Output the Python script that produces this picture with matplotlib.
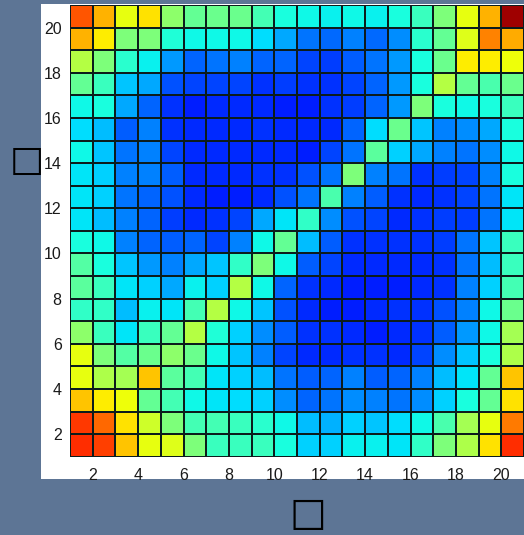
import numpy as np
import matplotlib
matplotlib.use("Agg")
import matplotlib.pyplot as plt

# rows listed from y=20 (top) down to y=1 (bottom); columns x=1..20
row20 = [0.82, 0.72, 0.63, 0.67, 0.52, 0.47, 0.48, 0.48, 0.43, 0.38, 0.37, 0.36, 0.37, 0.36, 0.38, 0.42, 0.50, 0.63, 0.72, 0.97]
row19 = [0.72, 0.66, 0.50, 0.50, 0.39, 0.37, 0.37, 0.37, 0.34, 0.29, 0.24, 0.23, 0.25, 0.23, 0.265, 0.40, 0.47, 0.62, 0.77, 0.73]
row18 = [0.57, 0.50, 0.40, 0.36, 0.275, 0.225, 0.24, 0.25, 0.225, 0.225, 0.195, 0.185, 0.215, 0.24, 0.275, 0.38, 0.48, 0.66, 0.66, 0.64]
row17 = [0.47, 0.42, 0.32, 0.29, 0.205, 0.195, 0.195, 0.195, 0.175, 0.185, 0.175, 0.175, 0.195, 0.225, 0.275, 0.38, 0.57, 0.47, 0.44, 0.48]
row16 = [0.37, 0.38, 0.29, 0.225, 0.175, 0.155, 0.165, 0.165, 0.165, 0.155, 0.155, 0.175, 0.185, 0.225, 0.275, 0.50, 0.38, 0.37, 0.38, 0.42]
row15 = [0.34, 0.31, 0.215, 0.25, 0.175, 0.165, 0.165, 0.165, 0.175, 0.165, 0.165, 0.165, 0.225, 0.34, 0.48, 0.32, 0.25, 0.265, 0.29, 0.38]
row14 = [0.37, 0.32, 0.24, 0.25, 0.195, 0.165, 0.165, 0.165, 0.165, 0.165, 0.155, 0.195, 0.24, 0.46, 0.33, 0.29, 0.25, 0.24, 0.265, 0.37]
row13 = [0.35, 0.33, 0.25, 0.25, 0.215, 0.165, 0.165, 0.165, 0.175, 0.175, 0.205, 0.24, 0.50, 0.25, 0.24, 0.175, 0.185, 0.195, 0.25, 0.38]
row12 = [0.35, 0.33, 0.24, 0.225, 0.205, 0.165, 0.155, 0.155, 0.165, 0.205, 0.24, 0.44, 0.25, 0.215, 0.175, 0.165, 0.175, 0.195, 0.24, 0.35]
row11 = [0.35, 0.31, 0.25, 0.225, 0.185, 0.165, 0.175, 0.195, 0.29, 0.35, 0.41, 0.265, 0.205, 0.195, 0.165, 0.175, 0.185, 0.185, 0.24, 0.35]
row10 = [0.38, 0.37, 0.25, 0.225, 0.215, 0.225, 0.195, 0.25, 0.37, 0.47, 0.31, 0.215, 0.175, 0.175, 0.175, 0.175, 0.185, 0.24, 0.32, 0.42]
row9  = [0.45, 0.38, 0.32, 0.275, 0.25, 0.29, 0.32, 0.41, 0.50, 0.37, 0.215, 0.195, 0.165, 0.165, 0.165, 0.165, 0.175, 0.24, 0.31, 0.42]
row8  = [0.46, 0.42, 0.35, 0.33, 0.29, 0.36, 0.33, 0.57, 0.37, 0.225, 0.175, 0.165, 0.155, 0.155, 0.155, 0.165, 0.175, 0.25, 0.33, 0.43]
row7  = [0.41, 0.41, 0.31, 0.36, 0.35, 0.43, 0.57, 0.37, 0.32, 0.205, 0.165, 0.155, 0.155, 0.165, 0.175, 0.175, 0.205, 0.25, 0.37, 0.48]
row6  = [0.52, 0.42, 0.35, 0.42, 0.47, 0.57, 0.39, 0.33, 0.265, 0.215, 0.175, 0.175, 0.165, 0.155, 0.165, 0.175, 0.215, 0.275, 0.37, 0.55]
row5  = [0.63, 0.50, 0.45, 0.48, 0.52, 0.48, 0.37, 0.32, 0.25, 0.195, 0.165, 0.165, 0.175, 0.175, 0.165, 0.195, 0.265, 0.32, 0.38, 0.56]
row4  = [0.63, 0.56, 0.55, 0.70, 0.46, 0.43, 0.35, 0.33, 0.31, 0.24, 0.215, 0.225, 0.25, 0.215, 0.225, 0.25, 0.31, 0.35, 0.47, 0.70]
row3  = [0.70, 0.66, 0.64, 0.47, 0.43, 0.37, 0.35, 0.34, 0.33, 0.265, 0.225, 0.24, 0.265, 0.25, 0.24, 0.265, 0.33, 0.38, 0.47, 0.67]
row2  = [0.85, 0.80, 0.67, 0.60, 0.50, 0.43, 0.43, 0.42, 0.40, 0.37, 0.31, 0.30, 0.33, 0.32, 0.34, 0.37, 0.44, 0.55, 0.63, 0.78]
row1  = [0.86, 0.84, 0.70, 0.63, 0.62, 0.50, 0.42, 0.42, 0.42, 0.38, 0.33, 0.33, 0.36, 0.36, 0.35, 0.41, 0.50, 0.56, 0.67, 0.86]

tick_values = [2, 4, 6, 8, 10, 12, 14, 16, 18, 20]
x_label = "\u25a1"
y_label = "\u25a1"

rows_top_down = [row20, row19, row18, row17, row16, row15, row14, row13, row12, row11,
                 row10, row9, row8, row7, row6, row5, row4, row3, row2, row1]
Z = np.array(rows_top_down[::-1])  # Z[0] is y=1
n = Z.shape[0]
edges = np.arange(1, n + 2)

W, H = 524, 535
fig = plt.figure(figsize=(W / 100, H / 100), dpi=100)
fig.patch.set_facecolor("#5d7595")

# white panel behind the plot
bg = fig.add_axes([41 / W, 1 - 479 / H, (W - 41) / W, (479 - 4) / H], zorder=0)
bg.set_facecolor("white")
bg.set_xticks([])
bg.set_yticks([])
for s in bg.spines.values():
    s.set_visible(False)

ax = fig.add_axes([70 / W, 1 - 456.7 / H, 454 / W, 451.7 / H], zorder=1)
ax.pcolormesh(edges, edges, Z, cmap="jet", vmin=0, vmax=1,
              edgecolors="#0c1c1c", linewidth=1.3)
ax.set_xlim(1, n + 1)
ax.set_ylim(1, n + 1)
ax.set_xticks(tick_values)
ax.set_yticks(tick_values)
ax.tick_params(length=0, labelsize=11.5, colors="#1a1a1a")
ax.tick_params(axis="x", pad=8)
ax.tick_params(axis="y", pad=6)
for lbl in ax.get_xticklabels() + ax.get_yticklabels():
    lbl.set_fontfamily("Liberation Sans")
for s in ax.spines.values():
    s.set_visible(False)

fig.text(27 / W, 1 - 161 / H, y_label, fontsize=26, ha="center", va="center",
         family="DejaVu Sans", color="black")
fig.text(307.5 / W, 1 - 514 / H, x_label, fontsize=28, ha="center", va="center",
         family="DejaVu Sans", color="black")

fig.savefig("out.png", dpi=100, facecolor=fig.get_facecolor())
